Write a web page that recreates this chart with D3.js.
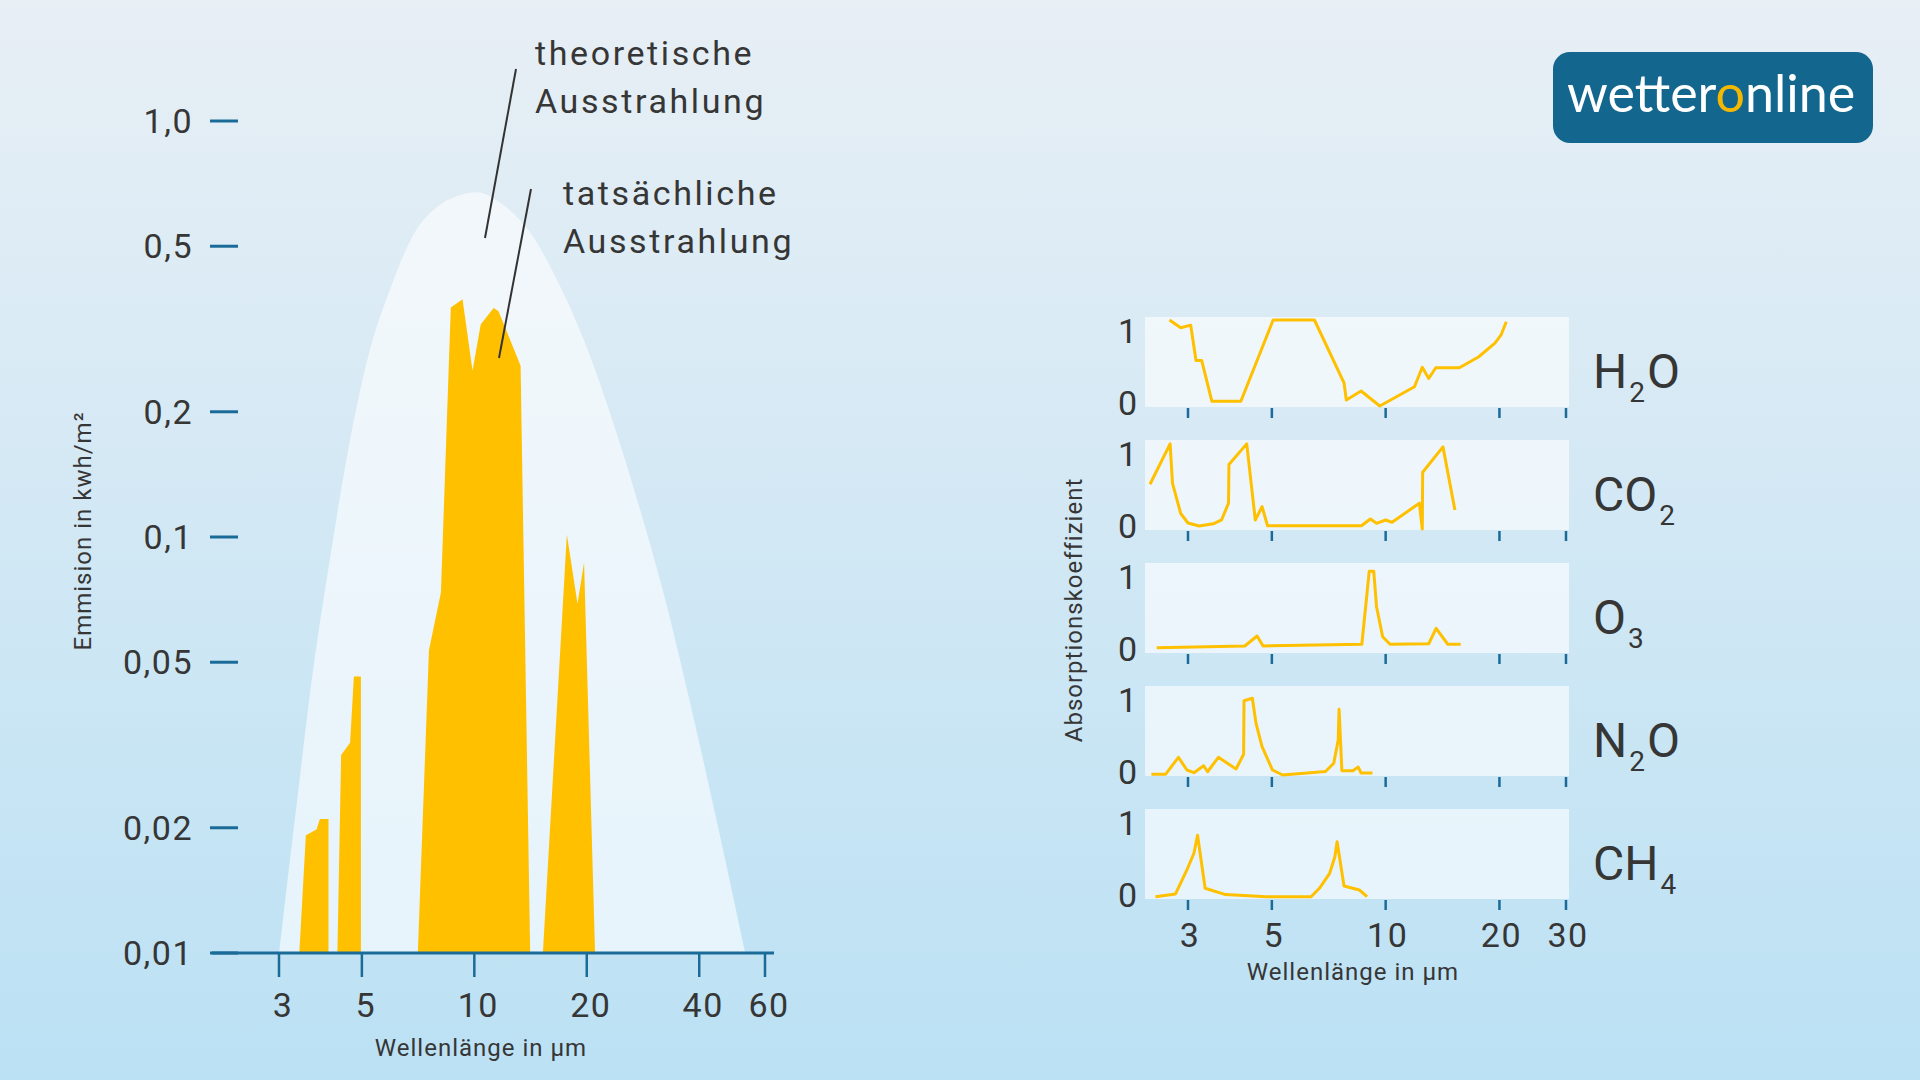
<!DOCTYPE html>
<html>
<head>
<meta charset="utf-8">
<script src="https://cdn.jsdelivr.net/npm/d3@7"></script>
<style>
  body { margin: 0; }
  svg { display: block; font-family: Roboto, "Noto Sans", sans-serif; }
</style>
</head>
<body>
<svg width="1920" height="1080"></svg>
<script>
// left chart: emission
const emTicks = [1, 0.5, 0.2, 0.1, 0.05, 0.02, 0.01];
const emTickLabels = ["1,0", "0,5", "0,2", "0,1", "0,05", "0,02", "0,01"];
const waveTicks = [3, 5, 10, 20, 40, 60];

// theoretical emission (Planck curve)
const theoWave  = [3.0, 3.35, 3.71, 4.11, 4.55, 5.26, 5.95, 6.87, 7.93, 8.97, 10.15,
                   11.96, 14.1, 16.62, 19.6, 23.1, 27.2, 32.1, 37.8, 44.6, 53.1];
const theoValue = [0.01, 0.0231, 0.0486, 0.089, 0.154, 0.283, 0.394, 0.533, 0.62, 0.659, 0.674,
                   0.628, 0.54, 0.416, 0.299, 0.198, 0.124, 0.0733, 0.04, 0.0207, 0.01];

// actual emission, four windows [wavelength, value]
const band1 = [[3.40, 0.01], [3.54, 0.0192], [3.78, 0.0198], [3.86, 0.021], [4.07, 0.021]];
const band2 = [[4.30, 0.01], [4.40, 0.0299], [4.65, 0.032], [4.76, 0.0462], [4.97, 0.0462]];
const band3 = [[7.06, 0.01], [7.56, 0.0534], [8.14, 0.0735], [8.65, 0.356], [9.30, 0.373], [9.89, 0.251],
               [10.4, 0.324], [11.26, 0.355], [11.61, 0.349], [13.3, 0.258], [14.11, 0.01]];
const band4 = [[15.26, 0.01], [17.69, 0.1014], [18.89, 0.0691], [19.67, 0.0868], [21.05, 0.01]];
const actualBands = [band1, band2, band3, band4];

// right panels: absorption
const absTicks = [3, 5, 10, 20, 30];
const gasLabels = [["H", "2", "O"], ["CO", "2", ""], ["O", "3", ""], ["N", "2", "O"], ["CH", "4", ""]];

const h2oCurve = [[2.68, 1.0], [2.87, 0.91], [3.05, 0.94], [3.15, 0.53], [3.26, 0.53], [3.47, 0.055], [4.14, 0.055],
  [5.04, 1.0], [6.48, 1.0], [7.76, 0.27], [7.87, 0.07], [8.61, 0.174], [9.65, 0.0], [11.92, 0.224], [12.5, 0.45],
  [13.0, 0.32], [13.57, 0.445], [15.67, 0.445], [17.6, 0.57], [19.46, 0.73], [20.2, 0.826], [20.85, 0.98]];
const co2Curve = [[2.38, 0.52], [2.69, 0.99], [2.73, 0.53], [2.87, 0.18], [3.0, 0.07], [3.21, 0.035], [3.5, 0.06],
  [3.68, 0.105], [3.84, 0.30], [3.85, 0.75], [4.29, 0.99], [4.52, 0.105], [4.71, 0.26], [4.87, 0.038], [8.63, 0.038],
  [9.11, 0.116], [9.46, 0.066], [10.0, 0.105], [10.4, 0.078], [12.28, 0.30], [12.5, 0.0], [12.53, 0.66], [14.18, 0.955], [15.25, 0.22]];
const o3Curve = [[2.48, 0.05], [4.24, 0.07], [4.57, 0.186], [4.74, 0.07], [8.65, 0.09], [9.05, 0.94], [9.3, 0.94],
  [9.46, 0.527], [9.82, 0.178], [10.27, 0.09], [13.0, 0.096], [13.6, 0.275], [14.6, 0.09], [15.8, 0.09]];
const n2oCurve = [[2.40, 0.01], [2.62, 0.01], [2.83, 0.206], [2.98, 0.058], [3.11, 0.027], [3.30, 0.108], [3.38, 0.038],
  [3.61, 0.206], [4.02, 0.07], [4.21, 0.241], [4.22, 0.864], [4.44, 0.892], [4.54, 0.60], [4.71, 0.329], [5.02, 0.058],
  [5.34, 0.0], [6.93, 0.04], [7.29, 0.136], [7.49, 0.407], [7.53, 0.764], [7.66, 0.05], [8.19, 0.05], [8.46, 0.093],
  [8.61, 0.023], [9.23, 0.023]];
const ch4Curve = [[2.46, 0.015], [2.78, 0.047], [2.98, 0.326], [3.11, 0.52], [3.18, 0.73], [3.33, 0.113], [3.77, 0.04],
  [4.83, 0.015], [6.35, 0.015], [6.68, 0.113], [7.11, 0.287], [7.34, 0.48], [7.44, 0.655], [7.76, 0.14], [8.52, 0.093], [8.93, 0.015]];
const gasCurves = [h2oCurve, co2Curve, o3Curve, n2oCurve, ch4Curve];

const textColor = "#363636";
const axisColor = "#1b6b98";
const yellow = "#ffc000";

const svg = d3.select("svg");

// background
const defs = svg.append("defs");
const grad = defs.append("linearGradient")
    .attr("id", "bg")
    .attr("x1", 0).attr("y1", 0).attr("x2", 0).attr("y2", 1);
grad.append("stop").attr("offset", "0%").attr("stop-color", "#e8eff5");
grad.append("stop").attr("offset", "100%").attr("stop-color", "#bbe1f4");
svg.append("rect")
    .attr("width", 1920).attr("height", 1080)
    .attr("fill", "url(#bg)");

//plot 1
const x1 = d3.scaleLog().domain([3, 60]).range([279, 765]);
const y1 = d3.scaleLog().domain([0.01, 1]).range([953, 121]);

const g1 = svg.append("g");

// theoretical curve
const theoData = theoWave.map((w, i) => [w, theoValue[i]]);
const theoArea = d3.area()
    .x(d => x1(d[0]))
    .y0(y1(0.01))
    .y1(d => y1(d[1]))
    .curve(d3.curveMonotoneX);
g1.append("path")
    .datum(theoData)
    .attr("d", theoArea)
    .attr("fill", "#ffffff")
    .attr("fill-opacity", 0.6);

// actual emission
const bandArea = d3.area()
    .x(d => x1(d[0]))
    .y0(y1(0.01))
    .y1(d => y1(d[1]));
g1.selectAll(".band").data(actualBands)
  .enter().append("path")
    .attr("class", "band")
    .attr("d", bandArea)
    .attr("fill", yellow);

// Y ticks
g1.selectAll(".ytick").data(emTicks)
  .enter().append("line")
    .attr("x1", 210).attr("x2", 238)
    .attr("y1", d => y1(d)).attr("y2", d => y1(d))
    .attr("stroke", axisColor)
    .attr("stroke-width", 3);
g1.selectAll(".ylab").data(emTicks)
  .enter().append("text")
    .attr("x", 193)
    .attr("y", d => y1(d))
    .attr("dy", "0.36em")
    .attr("text-anchor", "end")
    .attr("font-size", "34px")
    .attr("letter-spacing", "1.5px")
    .attr("fill", textColor)
    .text((d, i) => emTickLabels[i]);

// X axis
g1.append("line")
    .attr("x1", 212).attr("x2", 774)
    .attr("y1", y1(0.01)).attr("y2", y1(0.01))
    .attr("stroke", axisColor)
    .attr("stroke-width", 3);
g1.selectAll(".xtick").data(waveTicks)
  .enter().append("line")
    .attr("x1", d => x1(d)).attr("x2", d => x1(d))
    .attr("y1", y1(0.01)).attr("y2", y1(0.01) + 24)
    .attr("stroke", axisColor)
    .attr("stroke-width", 2.5);
g1.selectAll(".xlab").data(waveTicks)
  .enter().append("text")
    .attr("x", d => x1(d) + 4)
    .attr("y", 1017)
    .attr("text-anchor", "middle")
    .attr("font-size", "34px")
    .attr("letter-spacing", "1.5px")
    .attr("fill", textColor)
    .text(d => d);

// X label
g1.append("text")
    .attr("x", 481).attr("y", 1056)
    .attr("text-anchor", "middle")
    .attr("font-size", "24px")
    .attr("letter-spacing", "1px")
    .attr("fill", textColor)
    .text("Wellenlänge in µm");

// Y label
g1.append("text")
    .attr("transform", "translate(91, 531) rotate(-90)")
    .attr("text-anchor", "middle")
    .attr("font-size", "24px")
    .attr("letter-spacing", "1px")
    .attr("fill", textColor)
    .text("Emmision in kwh/m²");

// annotations
const notes = [
  {lines: ["theoretische", "Ausstrahlung"], x: 535, y: 65, from: [516, 69], to: [485, 238]},
  {lines: ["tatsächliche", "Ausstrahlung"], x: 563, y: 205, from: [531, 189], to: [499, 358]}
];
notes.forEach(n => {
  n.lines.forEach((t, i) => {
    g1.append("text")
      .attr("x", n.x).attr("y", n.y + i * 48)
      .attr("font-size", "34px")
      .attr("letter-spacing", "2.6px")
      .attr("fill", textColor)
      .text(t);
  });
  g1.append("line")
    .attr("x1", n.from[0]).attr("y1", n.from[1])
    .attr("x2", n.to[0]).attr("y2", n.to[1])
    .attr("stroke", "#333")
    .attr("stroke-width", 2);
});

//plot 2
const x2 = d3.scaleLog().domain([3, 30]).range([1188, 1566]);
const panelLeft = 1145, panelWidth = 424, panelHeight = 90;
const panelTops = [317, 440, 563, 686, 809];

gasCurves.forEach((curve, i) => {
  const top = panelTops[i];
  const y2 = d3.scaleLinear().domain([0, 1]).range([top + 89, top + 3]);
  const g = svg.append("g");

  g.append("rect")
    .attr("x", panelLeft).attr("y", top)
    .attr("width", panelWidth).attr("height", panelHeight)
    .attr("fill", "#ffffff")
    .attr("fill-opacity", 0.6);

  g.selectAll("line.tick").data(absTicks)
    .enter().append("line")
      .attr("class", "tick")
      .attr("x1", d => x2(d)).attr("x2", d => x2(d))
      .attr("y1", top + panelHeight + 1).attr("y2", top + panelHeight + 11)
      .attr("stroke", axisColor)
      .attr("stroke-width", 2.5);

  g.append("text")
    .attr("x", 1137).attr("y", top + 26)
    .attr("text-anchor", "end")
    .attr("font-size", "34px")
    .attr("fill", textColor)
    .text("1");
  g.append("text")
    .attr("x", 1137).attr("y", top + 98)
    .attr("text-anchor", "end")
    .attr("font-size", "34px")
    .attr("fill", textColor)
    .text("0");

  const line = d3.line()
    .x(d => x2(d[0]))
    .y(d => y2(d[1]));
  g.append("path")
    .datum(curve)
    .attr("d", line)
    .attr("fill", "none")
    .attr("stroke", yellow)
    .attr("stroke-width", 3)
    .attr("stroke-linejoin", "round");

  // formula
  const lab = gasLabels[i];
  const t = g.append("text")
    .attr("x", 1593).attr("y", top + 71)
    .attr("font-size", "48px")
    .attr("fill", textColor);
  t.append("tspan").text(lab[0]);
  t.append("tspan").attr("dy", 14).attr("dx", 2).attr("font-size", "28px").text(lab[1]);
  if (lab[2]) t.append("tspan").attr("dy", -14).attr("dx", 2).text(lab[2]);
});

// X ticks under last panel
svg.selectAll(".abslab").data(absTicks)
  .enter().append("text")
    .attr("x", d => x2(d) + 2)
    .attr("y", 947)
    .attr("text-anchor", "middle")
    .attr("font-size", "34px")
    .attr("letter-spacing", "1.5px")
    .attr("fill", textColor)
    .text(d => d);

svg.append("text")
    .attr("x", 1353).attr("y", 980)
    .attr("text-anchor", "middle")
    .attr("font-size", "24px")
    .attr("letter-spacing", "1px")
    .attr("fill", textColor)
    .text("Wellenlänge in µm");

svg.append("text")
    .attr("transform", "translate(1082, 610) rotate(-90)")
    .attr("text-anchor", "middle")
    .attr("font-size", "24px")
    .attr("letter-spacing", "1px")
    .attr("fill", textColor)
    .text("Absorptionskoeffizient");

// logo
const logo = svg.append("g");
logo.append("rect")
    .attr("x", 1553).attr("y", 52)
    .attr("width", 320).attr("height", 91)
    .attr("rx", 17)
    .attr("fill", "#13678f");
const lt = logo.append("text")
    .attr("x", 1567).attr("y", 112)
    .attr("font-family", "Lato, sans-serif")
    .attr("font-size", "52px")
    .attr("fill", "#ffffff");
lt.append("tspan").text("wetter");
lt.append("tspan").attr("fill", "#f5b800").text("o");
lt.append("tspan").text("nline");
</script>
</body>
</html>
